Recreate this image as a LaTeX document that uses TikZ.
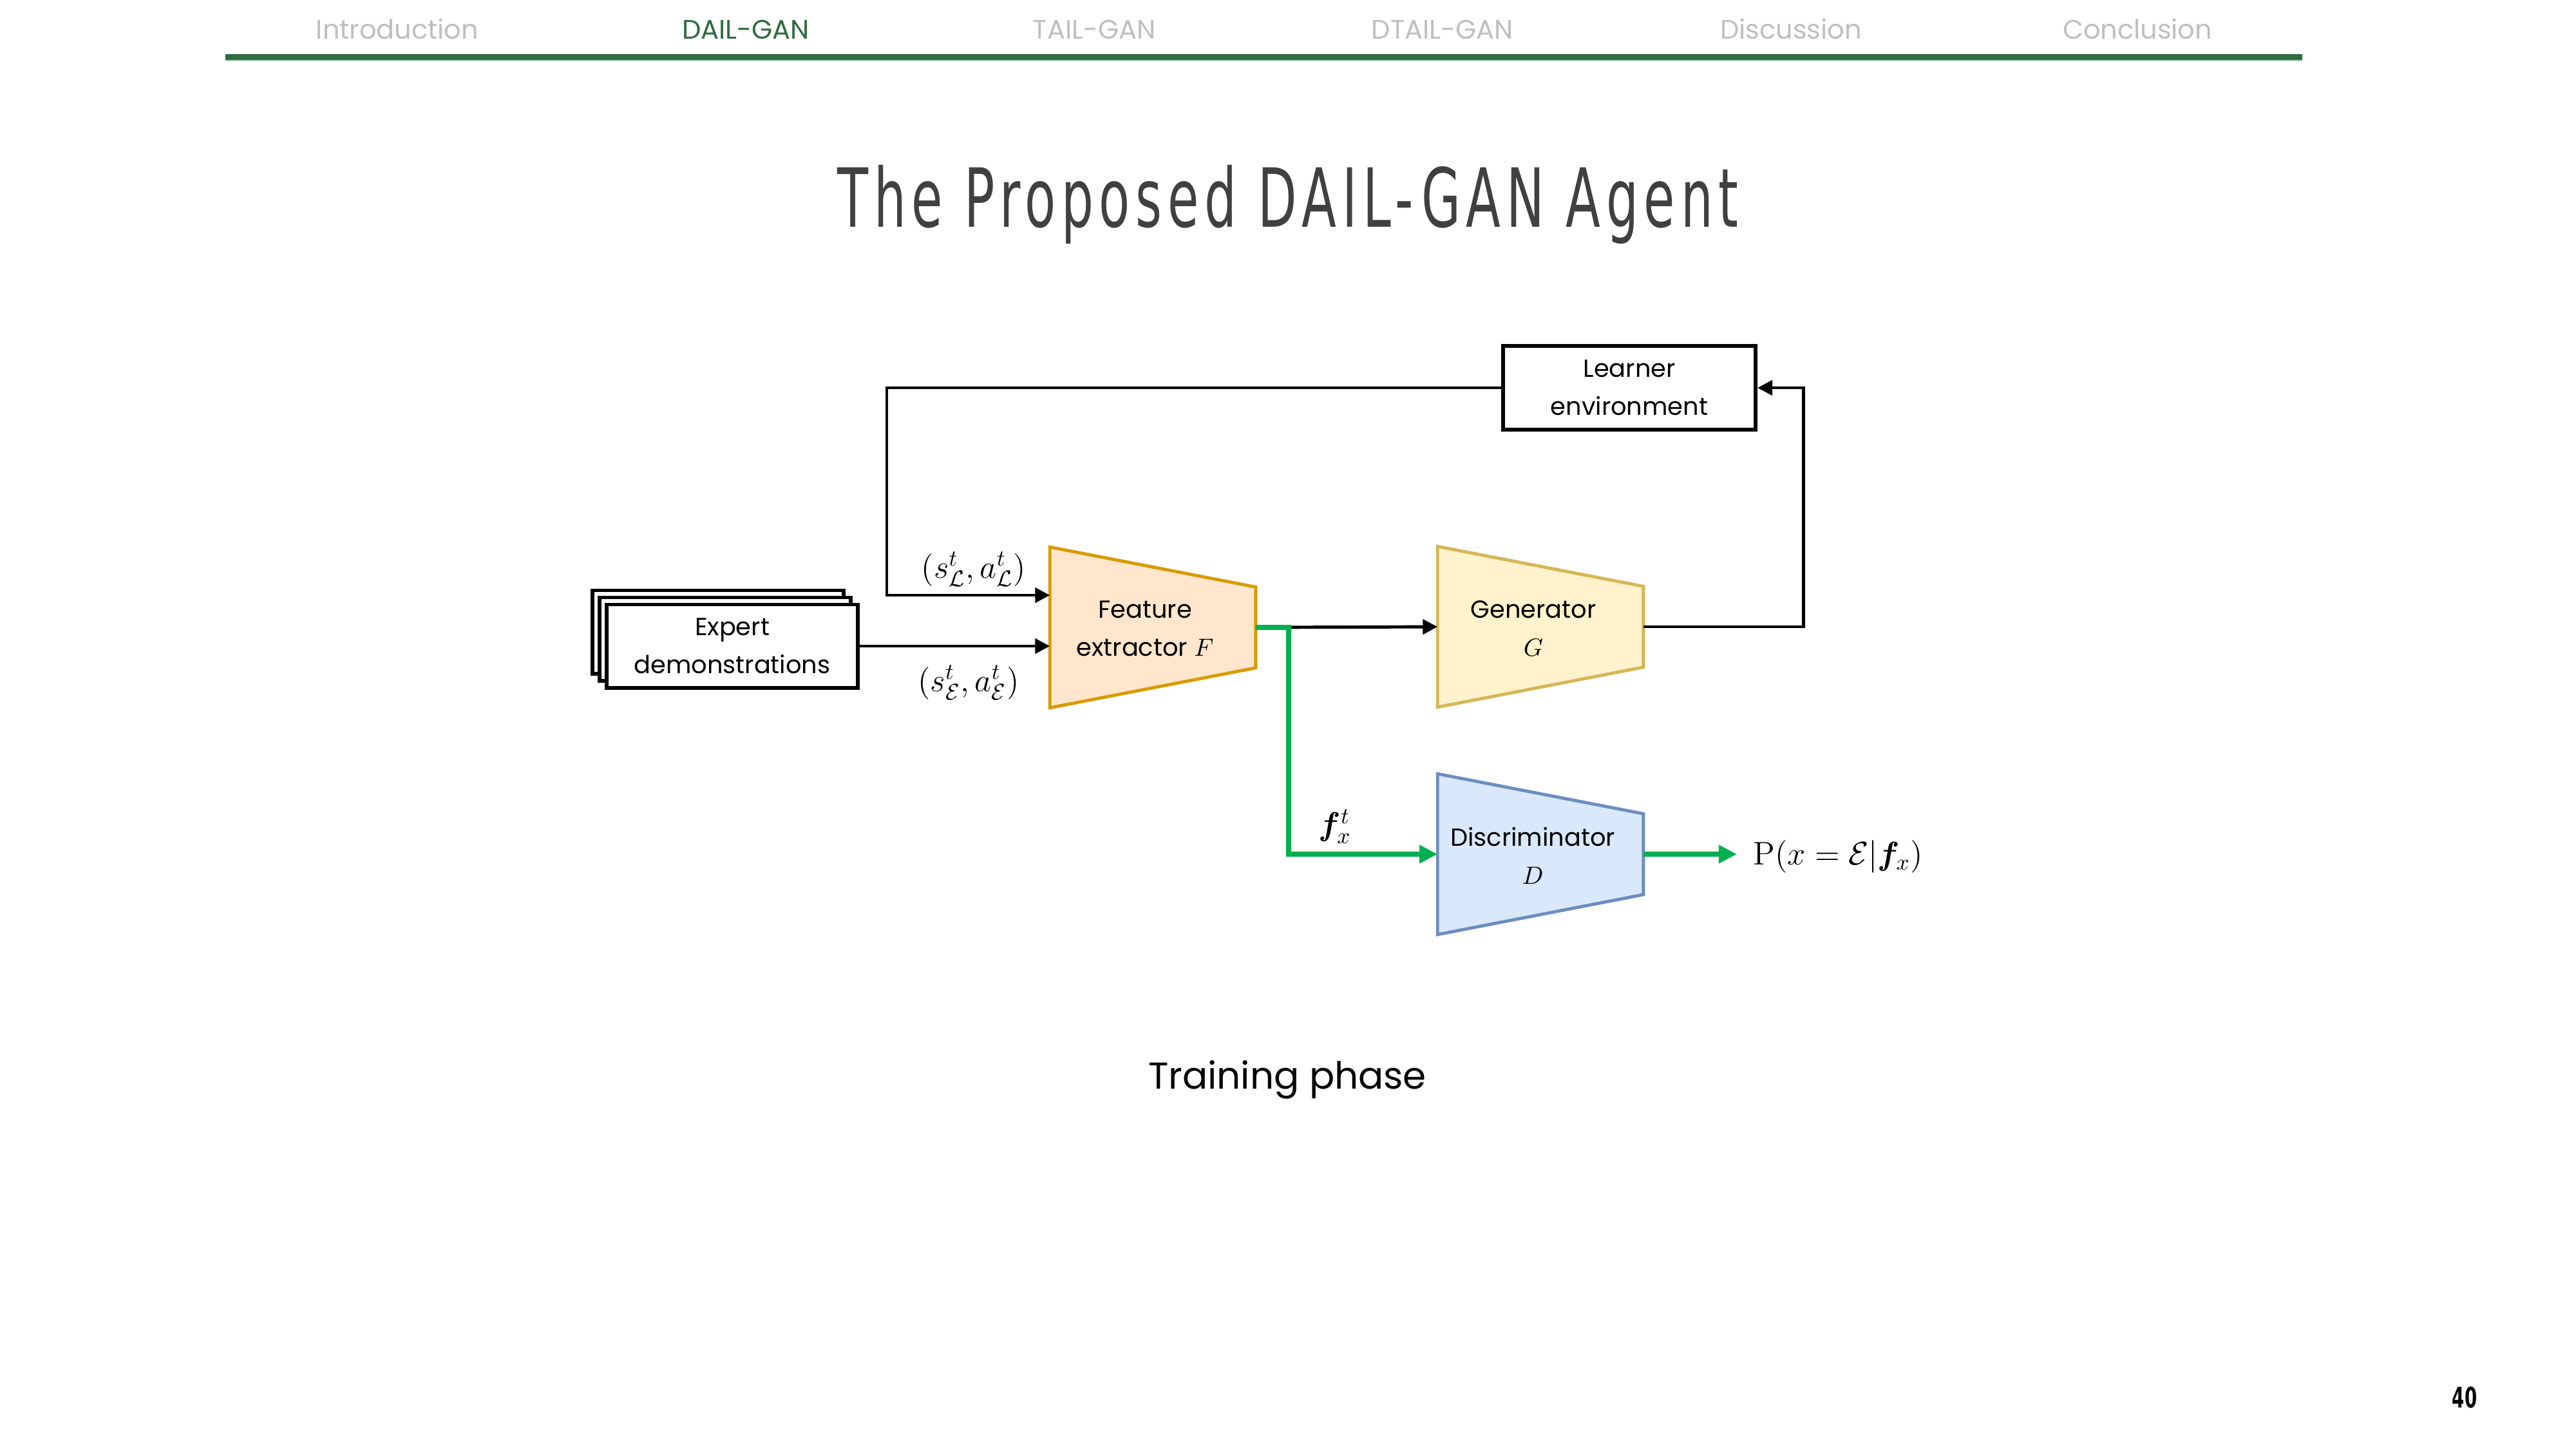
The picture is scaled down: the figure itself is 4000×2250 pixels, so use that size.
\documentclass[tikz,border=0pt]{standalone}
\usepackage{amsmath,bm}
\usepackage[no-math]{fontspec}
\setmainfont{Poppins}
\newfontfamily\titlefont[LetterSpace=10]{DejaVu Sans Condensed}
\newfontfamily\numfont{DejaVu Sans Condensed}
\usetikzlibrary{arrows.meta,calc}
\definecolor{navgray}{HTML}{BFBFBF}
\definecolor{navgreen}{HTML}{2E6B3E}
\definecolor{navlight}{HTML}{A9CDB4}
\definecolor{titlegray}{HTML}{404040}
\definecolor{feFill}{HTML}{FFE6CC}\definecolor{feDraw}{HTML}{D79B00}
\definecolor{genFill}{HTML}{FFF2CC}\definecolor{genDraw}{HTML}{D6B656}
\definecolor{disFill}{HTML}{DAE8FC}\definecolor{disDraw}{HTML}{6C8EBF}
\definecolor{arrgreen}{HTML}{00B050}
\newcommand{\bodyfs}{\fontsize{10.9}{16.8}\selectfont}
\newcommand{\mathfs}{\fontsize{14.3}{16}\selectfont}
\newcommand{\drawtrap}[3]{\draw[line width=1.4pt,fill=#2,draw=#3,line join=miter] (#1.north west) -- ($(#1.north east)+(0,62)$) -- ($(#1.south east)+(0,-62)$) -- (#1.south west) -- cycle;}
\tikzset{
  navitem/.style={anchor=base,inner sep=0,text=navgray,font=\fontsize{11.8}{14}\selectfont},
  trapbox/.style={minimum width=3.18cm,minimum height=2.48cm,inner sep=0,draw=none},
  traptext/.style={align=center,inner sep=0,font=\bodyfs},
  blkbox/.style={draw=black,line width=1.7pt,fill=white,align=center,inner sep=0,font=\bodyfs},
  mathlbl/.style={inner sep=0,font=\mathfs},
  blk/.style={draw=black,line width=1.4pt,-{Triangle[length=6.5pt,width=6.5pt]}},
  grn/.style={draw=arrgreen,line width=2.3pt,-{Triangle[length=8pt,width=7.7pt]}}
}
\begin{document}
\begin{tikzpicture}[x=0.01cm,y=-0.01cm]
\useasboundingbox (0,0) rectangle (4000,2250);
% header navigation
\node[navitem] (n1) at (617,60) {Introduction};
\node[navitem,text=navgreen] (n2) at (1158,60) {DAIL-GAN};
\node[navitem] (n3) at (1699,60) {TAIL-GAN};
\node[navitem] (n4) at (2240,60) {DTAIL-GAN};
\node[navitem] (n5) at (2781,60) {Discussion};
\node[navitem] (n6) at (3319,60) {Conclusion};
\fill[navlight] (350,92) rectangle (3575,95);
\fill[navgreen] (350,84) rectangle (3575,93);
% title
\node[anchor=base,inner sep=0,text=titlegray] (title) at (2000,352)
  {\scalebox{0.69}[1]{\titlefont\fontsize{36}{40}\selectfont The Proposed DAIL-GAN Agent}};
% trapezoid blocks
\node[trapbox] (fe) at (1790,974) {};
\drawtrap{fe}{feFill}{feDraw}
\node[traptext] (fet) at (1778,976) {Feature\\extractor $F$};
\node[trapbox] (ge) at (2392,973) {};
\drawtrap{ge}{genFill}{genDraw}
\node[traptext] (get) at (2381,975) {Generator\\$G$};
\node[trapbox] (di) at (2392,1326) {};
\drawtrap{di}{disFill}{disDraw}
\node[traptext] (dit) at (2380,1328) {Discriminator\\$D$};
% boxes
\node[blkbox,minimum width=3.92cm,minimum height=1.30cm] (le) at (2530,602) {Learner\\environment};
\node[blkbox,minimum width=3.9cm,minimum height=1.29cm] (ex3) at (1115,981) {};
\node[blkbox,minimum width=3.9cm,minimum height=1.29cm] (ex2) at (1126,992) {};
\node[blkbox,minimum width=3.9cm,minimum height=1.29cm] (ex) at (1137,1003) {Expert\\demonstrations};
% labels
\node[mathlbl] (lL) at (1512,884) {$(s^t_{\mathcal{L}},a^t_{\mathcal{L}})$};
\node[mathlbl] (lE) at (1504,1060) {$(s^t_{\mathcal{E}},a^t_{\mathcal{E}})$};
\node[mathlbl] (lf) at (2073,1283) {$\bm{f}^t_x$};
\node[mathlbl,anchor=west] (lp) at (2722,1330) {$\mathrm{P}(x=\mathcal{E}|\bm{f}_x)$};
% connectors
\coordinate (lc) at (1377,602);
\coordinate (feinL) at ($(fe.west)+(0,-50)$);
\draw[blk] (le.west) -- (lc) |- (feinL);
\draw[blk] (ex.east) -- (ex.east -| fe.west);
\draw[blk] (fe.east) -- (ge.west);
\coordinate (jn) at ($(fe.east)+(51,0)$);
\draw[grn] (fe.east) -- (jn) |- (di.west);
\coordinate (rc) at (2800,973);
\draw[blk] (ge.east) -- (rc) |- (le.east);
\coordinate (pout) at (2697,1326);
\draw[grn] (di.east) -- (pout);
% caption and page number
\node[inner sep=0,anchor=base,font=\fontsize{16.5}{20}\selectfont] (cap) at (1999,1690) {Training phase};
\node[inner sep=0] (pg) at (3827,2169) {\scalebox{0.7}[1]{\numfont\bfseries\fontsize{12.5}{14}\selectfont 40}};
\end{tikzpicture}
\end{document}
